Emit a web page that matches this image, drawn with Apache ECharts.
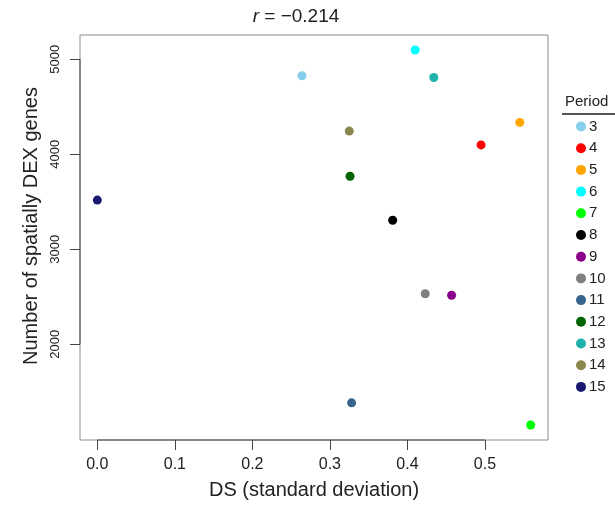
<!DOCTYPE html>
<html>
<head>
<meta charset="utf-8">
<script src="https://cdn.jsdelivr.net/npm/echarts@6/dist/echarts.min.js"></script>
<style>
  html, body { margin: 0; padding: 0; background: #fff; }
  #chart { width: 615px; height: 505px; }
</style>
</head>
<body>
<div id="chart"></div>
<script>
// Spatially DEX genes vs. DS, one point per period
const periods = ['3', '4', '5', '6', '7', '8', '9', '10', '11', '12', '13', '14', '15'];
const dsValues = [0.264, 0.495, 0.545, 0.410, 0.559, 0.381, 0.457, 0.423, 0.328, 0.326, 0.434, 0.325, 0.000];
const dexCounts = [4826, 4098, 4335, 5097, 1151, 3305, 2516, 2532, 1384, 3768, 4808, 4244, 3518];
const periodColors = ['#87CEEB', '#FF0000', '#FFA500', '#00FFFF', '#00FF00', '#000000', '#8B008B',
                      '#808080', '#36648B', '#006400', '#20B2AA', '#8B864E', '#191970'];
const xTicks = [0, 0.1, 0.2, 0.3, 0.4, 0.5];
const yTicks = [2000, 3000, 4000, 5000];
const correlation = '−0.214';

// Axis range padded by 4% of the data span on each side
function paddedRange(vals) {
  const lo = Math.min(...vals), hi = Math.max(...vals);
  const pad = (hi - lo) * 0.04;
  return [lo - pad, hi + pad];
}
const [xMin, xMax] = paddedRange(dsValues);
const [yMin, yMax] = paddedRange(dexCounts);

const FONT = 'Liberation Sans, Arial, sans-serif';
const AXIS_DARK = '#444';

const pointSeries = periods.map((p, i) => ({
  name: p,
  type: 'scatter',
  symbol: 'circle',
  symbolSize: 9,
  itemStyle: { color: periodColors[i], opacity: 1 },
  data: [[dsValues[i], dexCounts[i]]],
  z: 5
}));

// Axis lines spanning only the first to last tick
const axisSegments = [
  { data: [[xTicks[0], yMin], [xTicks[xTicks.length - 1], yMin]] },
  { data: [[xMin, yTicks[0]], [xMin, yTicks[yTicks.length - 1]]] }
].map(s => ({
  type: 'line',
  data: s.data,
  showSymbol: false,
  symbol: 'none',
  clip: false,
  silent: true,
  lineStyle: { color: AXIS_DARK, width: 1 },
  z: 4
}));

const chart = echarts.init(document.getElementById('chart'), null, { renderer: 'canvas' });
chart.setOption({
  animation: false,
  backgroundColor: '#fff',
  title: {
    text: '{i|r} = ' + correlation,
    left: 291,
    top: 2,
    textAlign: 'center',
    textStyle: {
      fontFamily: FONT, fontSize: 19, fontWeight: 'normal', color: '#222',
      rich: { i: { fontStyle: 'italic', fontFamily: FONT, fontSize: 19, color: '#222' } }
    }
  },
  grid: {
    left: 80, right: 67, top: 35, bottom: 62,
    show: true, borderColor: '#8c8c8c', borderWidth: 1, backgroundColor: 'transparent'
  },
  legend: {
    orient: 'vertical',
    left: 576,
    top: 119,
    padding: 0,
    itemWidth: 10,
    itemHeight: 10,
    itemGap: 6.7,
    icon: 'circle',
    data: periods,
    textStyle: { fontFamily: FONT, fontSize: 15, color: '#222', lineHeight: 15, padding: [0, 0, 0, -2] }
  },
  graphic: [
    {
      type: 'text',
      left: 565, top: 94,
      style: { text: 'Period', fontFamily: FONT, fontSize: 15, fill: '#222' }
    },
    {
      type: 'line',
      shape: { x1: 562, y1: 114, x2: 615, y2: 114 },
      style: { stroke: '#555', lineWidth: 2 }
    }
  ],
  xAxis: {
    type: 'value',
    min: xMin,
    max: xMax,
    name: 'DS (standard deviation)',
    nameLocation: 'middle',
    nameGap: 40,
    nameTextStyle: { fontFamily: FONT, fontSize: 20, color: '#222' },
    axisLine: { show: false, onZero: false },
    axisTick: { show: true, length: 10, lineStyle: { color: AXIS_DARK }, customValues: xTicks },
    axisLabel: {
      fontFamily: FONT, fontSize: 16, color: '#222', margin: 17,
      customValues: xTicks,
      formatter: v => v.toFixed(1)
    },
    splitLine: { show: false }
  },
  yAxis: {
    type: 'value',
    min: yMin,
    max: yMax,
    name: 'Number of spatially DEX genes',
    nameLocation: 'middle',
    nameGap: 38,
    nameTextStyle: { fontFamily: FONT, fontSize: 20, color: '#222', padding: [0, 0, 0, 23] },
    axisLine: { show: false, onZero: false },
    axisTick: { show: true, length: 10, lineStyle: { color: AXIS_DARK }, customValues: yTicks },
    axisLabel: {
      fontFamily: FONT, fontSize: 13, color: '#222', margin: 18, rotate: 90,
      customValues: yTicks,
      formatter: v => String(v)
    },
    splitLine: { show: false }
  },
  series: pointSeries.concat(axisSegments)
});
</script>
</body>
</html>
